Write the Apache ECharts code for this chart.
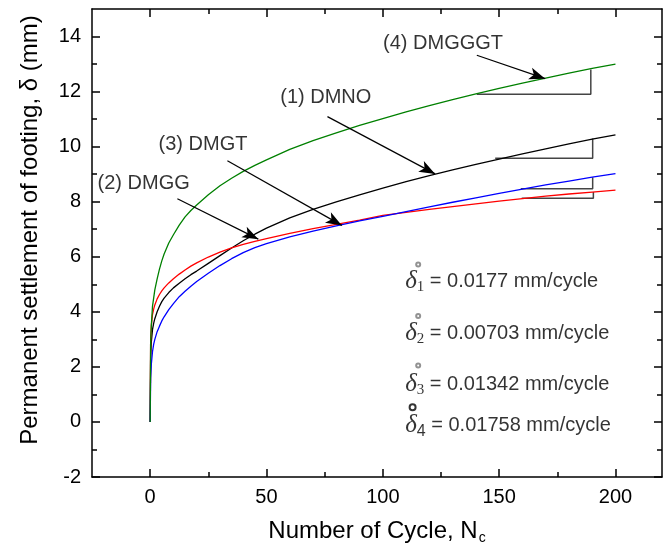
<!DOCTYPE html>
<html><head><meta charset="utf-8">
<script src="https://cdn.jsdelivr.net/npm/echarts@6/dist/echarts.min.js"></script>
<style>html,body{margin:0;padding:0;background:#fff}#c{width:664px;height:550px}</style>
</head><body><div id="c"></div>
<script>
// ---- data ----
const cycles = [0, 0.2, 0.5, 1, 1.5, 2, 3, 4, 5, 6, 8, 10, 12.5, 15, 17.5, 20, 25, 30, 35, 40, 45, 50,
                60, 70, 80, 90, 100, 110, 120, 130, 140, 150, 160, 170, 180, 190, 200];
const dmno   = [0, 2.3, 2.9, 3.35, 3.58, 3.75, 4.0, 4.2, 4.37, 4.5, 4.7, 4.87, 5.04, 5.2, 5.35, 5.48, 5.76, 6.04, 6.32, 6.58, 6.82, 7.04,
                7.41, 7.72, 7.99, 8.25, 8.49, 8.73, 8.95, 9.16, 9.36, 9.55, 9.74, 9.92, 10.1, 10.27, 10.43];
const dmgg   = [0, 2.9, 3.5, 3.9, 4.1, 4.25, 4.47, 4.63, 4.76, 4.87, 5.05, 5.2, 5.37, 5.52, 5.66, 5.78, 5.99, 6.17, 6.32, 6.45, 6.56, 6.66,
                6.85, 7.02, 7.18, 7.33, 7.5, 7.61, 7.72, 7.82, 7.92, 8.02, 8.11, 8.2, 8.28, 8.35, 8.42];
const dmgt   = [0, 1.6, 2.1, 2.55, 2.82, 3.0, 3.28, 3.48, 3.67, 3.82, 4.08, 4.3, 4.55, 4.75, 4.93, 5.1, 5.4, 5.68, 5.93, 6.15, 6.33, 6.48,
                6.72, 6.93, 7.12, 7.3, 7.47, 7.64, 7.81, 7.98, 8.14, 8.3, 8.46, 8.61, 8.75, 8.89, 9.02];
const dmgggt = [0, 2.9, 3.5, 4.2, 4.5, 4.8, 5.2, 5.55, 5.85, 6.1, 6.5, 6.8, 7.15, 7.45, 7.68, 7.88, 8.25, 8.58, 8.85, 9.1, 9.32, 9.52,
                9.9, 10.22, 10.5, 10.77, 11.02, 11.26, 11.49, 11.71, 11.92, 12.12, 12.31, 12.49, 12.67, 12.84, 13.0];

const xMajorTicks = [0, 50, 100, 150, 200];
const xMinorTicks = [25, 75, 125, 175];
const yMajorTicks = [-2, 0, 2, 4, 6, 8, 10, 12, 14];
const yMinorTicks = [-1, 1, 3, 5, 7, 9, 11, 13];

// curve name labels [x, y, text]
const curveLabels = [
  [100.1, 13.74, '(4) DMGGGT'],
  [55.9, 11.79, '(1) DMNO'],
  [3.6, 10.09, '(3) DMGT'],
  [-22.6, 8.65, '(2) DMGG']
];
// arrows [x1, y1, x2, y2]
const arrows = [
  [140.4, 13.32, 169.8, 12.47],
  [76.2, 11.09, 122.5, 9.01],
  [33.2, 9.49, 82.4, 7.14],
  [11.7, 8.11, 46.5, 6.64]
];
// slope triangles
const triGreen = [[140.4, 11.9], [189.4, 11.9], [189.4, 12.8]];
const triBlack = [[148.3, 9.58], [190.2, 9.58], [190.2, 10.3]];
const triBlue  = [[159.3, 8.47], [190.2, 8.47], [190.2, 8.89]];
const triRed   = [[159.7, 8.13], [190.5, 8.13], [190.5, 8.35]];
// settlement rates
const rateIdx = ['1', '2', '3', '4'];
const rateVals = ['0.0177', '0.00703', '0.01342', '0.01758'];
const rateY = [5.1, 3.23, 1.36, -0.14];
const rateX = 109.6;
const ringPos = [[115.2, 5.72, 4], [115.2, 3.85, 4], [115.2, 2.05, 4], [112.8, 0.53, 6]];

// ---- chart ----
const F = '"Liberation Sans", Arial, Helvetica, sans-serif';
const SERIF = '"Liberation Serif", "Times New Roman", serif';
const chart = echarts.init(document.getElementById('c'), null, {renderer: 'canvas'});

function axis(kind, pos, min, max, ticks, len, showLine, label, extra) {
  const a = {
    type: 'value', position: pos, min: min, max: max,
    axisLine: {show: showLine, onZero: false, lineStyle: {color: '#000', width: 1.5}},
    axisTick: {show: true, inside: true, length: len, customValues: ticks, lineStyle: {color: '#000', width: 1.5}},
    axisLabel: label ? {show: true, customValues: ticks, color: '#000', fontSize: 20, fontFamily: F, margin: kind === 'x' ? 10 : 11} : {show: false},
    splitLine: {show: false}
  };
  return Object.assign(a, extra || {});
}

const xAxes = [
  axis('x', 'bottom', -25, 220, xMajorTicks, 8, true, true, {
    name: 'Number of Cycle, N{c|c}', nameLocation: 'middle', nameGap: 40,
    nameTextStyle: {color: '#000', fontSize: 24, fontFamily: F,
      rich: {c: {fontSize: 14, fontFamily: F, color: '#000', verticalAlign: 'bottom', padding: [14, 0, 0, 1]}}}
  }),
  axis('x', 'bottom', -25, 220, xMinorTicks, 5, false, false),
  axis('x', 'top', -25, 220, xMajorTicks, 8, true, false),
  axis('x', 'top', -25, 220, xMinorTicks, 5, false, false)
];
const yAxes = [
  axis('y', 'left', -2, 15, yMajorTicks, 8, true, true, {
    name: 'Permanent settlement of footing, δ (mm)', nameLocation: 'middle', nameGap: 50,
    nameTextStyle: {color: '#000', fontSize: 24, fontFamily: F, padding: [0, 0, 0, 26]}
  }),
  axis('y', 'left', -2, 15, yMinorTicks, 5, false, false),
  axis('y', 'right', -2, 15, yMajorTicks, 8, true, false),
  axis('y', 'right', -2, 15, yMinorTicks, 5, false, false)
];

function curve(name, vals, color) {
  return {
    name: name, type: 'line', xAxisIndex: 0, yAxisIndex: 0,
    data: cycles.map((n, i) => [n, vals[i]]),
    showSymbol: false, symbol: 'none', smooth: false,
    lineStyle: {color: color, width: 1.3}, z: 3
  };
}
function tri(pts) {
  return {type: 'line', xAxisIndex: 0, yAxisIndex: 0, data: pts, symbol: 'none',
    lineStyle: {color: '#444', width: 1.5}, z: 2};
}

const richRate = {
  d: {fontFamily: SERIF, fontStyle: 'italic', fontSize: 25, color: '#000', verticalAlign: 'middle'},
  s: {fontFamily: SERIF, fontSize: 15, color: '#000', verticalAlign: 'bottom', padding: [12, 0, 0, 0]},
  s4: {fontFamily: F, fontSize: 16, color: '#000', verticalAlign: 'bottom', padding: [12, 0, 0, 0]},
  t: {fontFamily: F, fontSize: 20, color: '#000', verticalAlign: 'middle'}
};

const option = {
  animation: false,
  backgroundColor: '#fff',
  grid: {left: 92, right: 2, top: 9, bottom: 70, containLabel: false},
  xAxis: xAxes,
  yAxis: yAxes,
  series: [
    curve('(1) DMNO', dmno, '#000000'),
    curve('(2) DMGG', dmgg, '#ff0000'),
    curve('(3) DMGT', dmgt, '#0000ff'),
    curve('(4) DMGGGT', dmgggt, '#008000'),
    tri(triGreen), tri(triBlack), tri(triBlue), tri(triRed),
    {
      type: 'line', data: [[arrows[0][0], arrows[0][1]]], symbol: 'none', lineStyle: {width: 0},
      markLine: {
        silent: true, symbol: ['none', 'arrow'], symbolSize: [9, 16],
        lineStyle: {color: '#000', width: 1.2, type: 'solid'}, label: {show: false},
        data: arrows.map(a => [{coord: [a[0], a[1]]}, {coord: [a[2], a[3]]}])
      }, z: 4
    },
    {
      type: 'scatter', symbolSize: 0, silent: true,
      data: curveLabels.map(l => ({value: [l[0], l[1]], name: l[2]})),
      label: {show: true, position: 'right', distance: 0, formatter: '{b}', color: '#000', fontSize: 20, fontFamily: F}
    },
    {
      type: 'scatter', symbolSize: 0, silent: true,
      data: rateIdx.map((k, i) => ({value: [rateX, rateY[i]], name: k + '|' + rateVals[i]})),
      label: {
        show: true, position: 'right', distance: 0, rich: richRate,
        formatter: p => {
          const [k, v] = p.name.split('|');
          const st = k === '4' ? 's4' : 's';
          return '{d|δ}{' + st + '|' + k + '}{t| = ' + v + ' mm/cycle}';
        }
      }
    },
    {
      type: 'scatter', silent: true, symbol: 'emptyCircle',
      data: ringPos.map(r => ({value: [r[0], r[1]], symbolSize: r[2],
        itemStyle: r[2] > 4 ? {color: '#000', borderColor: '#000', borderWidth: 1.5} : {color: '#777', borderColor: '#777', borderWidth: 0.5}})),
      z: 5
    }
  ]
};
chart.setOption(option);
</script>
</body></html>
